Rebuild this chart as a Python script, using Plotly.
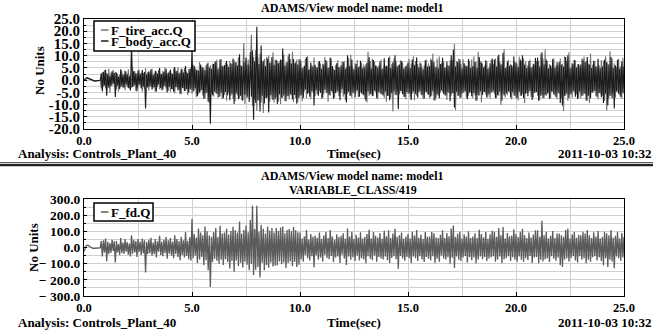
import plotly.graph_objects as go

# ---------------- data (sampled every 0.05 s, 0 .. 25 s) ----------------
T_STEP = 0.05

body_acc = [
    0.0, 0.5, 0.9, 1.0, 0.8, 0.5, 0.2, -0.1, -0.3, -0.4, -0.4, -0.3, -0.3, -0.2, -0.2, -0.1, 2.8, -4.6, 3.4, -2.2,
    4.2, -6.4, 2.6, -3.1, 1.8, -2.4, 3.6, -1.5, 2.9, -6.9, 3.1, -2.2, 1.4, -3.6, 4.4, -2.5, 2.2, -3.0, 3.8, -1.8,
    2.4, -3.2, 1.6, -4.2, 14.6, -2.8, 3.6, -2.1, 2.8, -4.5, 3.9, -1.9, 2.6, -3.4, 4.1, -2.6, 3.3, -11.6, 2.4, -3.0,
    3.6, -2.5, 4.4, -3.8, 2.1, -2.9, 3.8, -4.6, 2.7, -1.8, 4.9, -3.3, 2.6, -3.9, 3.4, -2.4, 4.6, -5.1, 3.1, -2.7,
    4.3, -3.6, 2.5, -4.8, 5.4, -2.9, 3.7, -4.1, 2.8, -5.6, 4.6, -3.2, 3.1, -4.4, 5.8, -3.6, 2.9, -5.2, 4.5, -3.8,
    12.6, -4.6, 5.9, -3.4, 4.2, -6.6, 3.8, -5.1, 6.4, -4.0, 5.2, -7.6, 4.1, -5.4, 6.8, -8.8, 5.1, -17.8, 4.6, -6.2,
    6.6, -4.8, 7.6, -5.6, 4.4, -6.9, 8.4, -5.2, 5.9, -7.4, 6.2, -4.9, 7.8, -6.2, 5.4, -8.2, 6.9, -5.7, 8.8, -9.8,
    7.2, -5.4, 6.1, -7.8, 10.6, -6.4, 5.8, -8.4, 7.3, -6.0, 9.2, -7.2, 6.4, -8.9, 11.4, -6.8, 12.1, -16.2, 7.7, -9.4,
    21.8, -8.2, 6.6, -12.8, 14.2, -6.4, 7.9, -9.6, 5.8, -7.4, 8.8, -13.2, 7.1, -6.2, 9.4, -8.1, 6.3, -7.7, 8.2, -9.8,
    6.9, -5.8, 8.4, -7.1, 12.9, -6.3, 5.9, -8.6, 7.4, -6.6, 10.8, -5.9, 6.8, -7.9, 8.6, -6.1, 7.2, -9.7, 6.4, -7.3,
    8.4, -6.2, 4.8, -7.4, 5.9, -3.8, 9.4, -5.6, 4.2, -6.8, 7.2, -4.6, 5.6, -10.4, 6.3, -4.1, 5.1, -6.4, 7.8, -5.2,
    4.6, -7.2, 6.4, -3.9, 8.2, -5.4, 4.9, -6.1, 9.2, -4.4, 5.8, -7.6, 4.1, -5.3, 6.9, -4.7, 5.4, -8.2, 6.1, -3.6,
    7.4, -5.8, 4.6, -9.2, 10.2, -4.8, 5.7, -6.4, 8.4, -5.1, 4.4, -7.1, 6.6, -4.2, 5.3, -6.8, 7.9, -5.5, 4.8, -6.2,
    5.5, -8.4, 7.1, -4.6, 9.4, -5.9, 4.7, -6.6, 8.2, -4.3, 6.0, -7.4, 5.2, -4.9, 7.6, -5.7, 4.5, -6.3, 8.9, -4.8,
    5.9, -6.5, 9.1, -8.2, 4.9, -5.4, 7.3, -4.6, 10.2, -6.1, 5.6, -11.8, 6.4, -4.4, 7.8, -5.8, 4.6, -6.9, 5.8, -4.9,
    7.2, -5.5, 4.8, -8.1, 8.4, -4.7, 6.2, -5.6, 9.2, -7.2, 5.1, -4.6, 6.8, -6.2, 4.4, -7.6, 8.1, -4.9, 5.6, -6.0,
    5.7, -6.8, 8.2, -4.5, 7.4, -8.2, 5.3, -5.9, 4.8, -7.4, 6.6, -4.2, 9.1, -5.7, 4.9, -6.3, 7.6, -5.0, 5.9, -8.6,
    10.2, -5.4, 12.4, -11.2, 5.6, -4.8, 7.4, -6.4, 8.4, -7.2, 4.7, -5.2, 6.9, -4.4, 5.8, -7.8, 8.6, -5.1, 4.9, -6.6,
    5.7, -5.3, 7.4, -8.4, 4.9, -6.2, 9.4, -4.7, 7.2, -6.1, 5.3, -4.9, 8.1, -7.2, 4.6, -5.8, 6.9, -5.1, 8.8, -4.5,
    8.4, -7.4, 5.6, -6.2, 10.4, -4.8, 6.4, -8.4, 11.2, -6.3, 4.8, -5.5, 7.6, -4.6, 5.9, -7.1, 6.2, -5.0, 9.6, -6.4,
    7.2, -7.4, 5.4, -4.8, 8.4, -6.4, 10.2, -7.4, 6.4, -5.6, 4.9, -6.6, 7.8, -4.4, 5.2, -8.1, 6.7, -5.2, 9.0, -4.9,
    9.2, -8.4, 5.6, -6.4, 11.4, -7.4, 6.4, -6.2, 8.4, -5.6, 4.7, -7.6, 6.1, -4.6, 8.6, -5.9, 4.9, -6.9, 7.3, -5.2,
    7.4, -9.4, 6.4, -10.4, 5.6, -6.4, 9.4, -5.6, 10.2, -7.4, 4.8, -5.6, 6.9, -4.5, 8.2, -6.8, 5.1, -7.7, 6.6, -4.6,
    6.4, -6.4, 8.4, -5.6, 7.4, -8.4, 9.4, -6.4, 6.4, -7.4, 4.9, -5.1, 7.9, -4.5, 5.7, -6.8, 8.7, -5.3, 4.8, -7.0,
    5.6, -9.4, 8.4, -5.6, 7.4, -10.4, 6.4, -6.4, 9.4, -7.4, 5.0, -11.6, 6.1, -4.7, 8.3, -5.6, 4.7, -6.9, 7.6, -5.2,
    5.6,
]

tire_acc = [
    0.0, 0.3, 0.6, 0.7, 0.6, 0.4, 0.1, -0.1, -0.2, -0.3, -0.3, -0.3, -0.2, -0.2, -0.1, -0.1, -3.4, 3.2, -2.6, 4.1,
    -3.4, 2.8, -2.1, 4.6, -5.2, 3.1, -2.4, 4.2, -1.9, 3.4, -3.8, 2.6, -4.6, 2.2, -2.9, 3.9, -3.3, 2.4, -4.1, 3.5,
    -2.7, 4.4, -3.6, 2.3, -3.1, 4.9, -2.5, 3.7, -4.4, 2.6, -3.4, 4.3, -2.2, 3.1, -4.8, 2.9, -3.6, 4.8, -2.8, 3.3,
    -4.2, 3.1, -2.6, 4.6, -3.4, 2.8, -4.9, 3.6, -2.8, 4.1, -3.7, 2.5, -4.3, 3.8, -2.6, 5.1, -3.5, 2.7, -4.4, 3.6,
    -4.7, 2.9, -3.8, 4.8, -5.5, 3.6, -2.9, 5.2, -4.1, 3.2, -5.9, 4.4, -3.3, 4.9, -4.4, 3.4, -6.2, 4.6, -3.6, 5.3,
    -5.6, 6.3, -4.4, 5.1, -6.9, 4.2, -5.8, 7.4, -4.6, 5.6, -6.3, 4.8, -7.6, 6.1, -4.9, 7.2, -9.4, 6.1, -5.2, 6.8,
    -6.8, 7.6, -5.4, 8.3, -7.2, 4.9, -6.6, 8.6, -7.8, 5.6, -6.1, 7.1, -8.4, 6.4, -5.2, 7.8, -6.4, 6.6, -7.6, 8.2,
    -8.6, 7.4, -6.2, 9.2, -7.4, 6.1, -8.1, 7.6, 15.2, -9.8, 7.9, -6.5, 8.4, -7.4, 9.6, 18.6, -10.6, 9.4, -8.2, 12.2,
    -12.6, 9.6, -8.4, 10.8, -9.2, 7.4, -13.4, 8.6, -7.2, 9.4, -6.8, 10.2, -8.8, 7.2, -7.6, 11.4, -9.2, 8.4, -6.9, 7.8,
    -8.8, 7.6, -9.8, 8.2, -7.3, 10.4, -8.6, 7.1, -6.6, 9.8, -7.9, 8.6, -6.2, 11.6, -8.9, 6.9, -7.4, 8.4, -9.1, 8.6,
    -6.4, 7.8, -8.6, 5.2, -4.6, 8.6, -7.4, 9.8, -5.2, 4.6, -7.8, 6.2, -4.8, 9.2, -6.6, 5.4, -5.9, 7.4, -4.4, 6.8,
    -7.8, 6.8, -5.6, 9.4, -4.9, 7.6, -8.8, 5.4, -6.4, 8.8, -5.1, 4.7, -7.2, 6.2, -4.6, 8.1, -6.6, 5.2, -4.9, 7.6,
    -6.8, 7.8, -8.2, 5.4, -5.6, 9.0, -6.4, 10.4, -7.2, 4.8, -5.5, 6.9, -4.6, 8.2, -6.9, 5.7, -4.8, 7.1, -5.9, 6.4,
    -7.6, 6.6, -9.2, 11.6, -6.4, 7.8, -5.6, 8.8, -6.4, 7.6, -4.8, 5.9, -7.8, 6.1, -5.3, 8.4, -6.1, 4.9, -7.3, 5.8,
    -8.8, 5.6, -6.4, 9.8, -7.4, 6.6, -12.8, 8.8, -6.2, 7.8, -4.9, 6.2, -5.8, 8.1, -4.6, 7.2, -6.8, 5.1, -7.9, 6.4,
    -5.6, 8.6, -7.4, 6.8, -5.6, 9.8, -8.2, 7.8, -6.4, 6.6, -4.7, 7.3, -6.1, 5.2, -7.7, 6.1, -4.9, 8.4, -5.8, 6.9,
    -7.4, 8.8, -6.4, 10.8, -8.4, 5.6, -7.2, 8.8, -6.4, 9.6, -5.1, 6.9, -4.8, 7.6, -6.2, 5.4, -8.1, 6.2, -5.3, 7.9,
    -6.4, 8.2, -5.4, 14.8, -12.2, 7.8, -6.4, 8.8, -7.4, 6.8, -5.6, 8.6, -4.9, 6.3, -7.2, 5.6, -6.4, 7.9, -5.1, 8.4,
    -7.4, 9.8, -6.2, 7.6, -8.4, 11.6, -6.4, 7.8, -9.2, 6.8, -4.8, 6.1, -5.9, 7.7, -6.8, 5.2, -7.6, 8.3, -4.9, 6.6,
    -5.6, 8.8, -7.4, 9.8, -6.4, 7.6, -10.2, 6.8, -5.6, 12.6, -7.1, 5.4, -6.2, 8.2, -4.8, 6.7, -7.9, 5.6, -6.3, 7.4,
    -7.4, 6.8, -8.4, 9.6, -6.4, 7.8, -5.6, 8.8, -9.4, 7.6, -5.3, 6.2, -4.8, 8.4, -6.9, 5.5, -7.2, 6.4, -5.1, 7.8,
    -6.4, 7.8, -8.2, 10.8, -6.2, 8.8, -7.4, 12.4, -6.4, 7.8, -5.1, 6.6, -7.6, 5.2, -4.8, 8.9, -6.3, 5.9, -7.8, 6.2,
    -5.6, 8.8, -7.4, 6.8, -12.6, 9.8, -6.4, 7.8, -8.4, 11.4, -6.1, 5.3, -7.2, 6.6, -4.9, 8.1, -5.8, 6.4, -7.4, 5.6,
    -7.4, 8.8, -6.4, 9.6, -5.6, 7.8, -8.4, 6.8, -9.4, 10.8, -5.2, 6.4, -4.7, 7.8, -6.6, 5.3, -7.9, 6.1, -5.4, 8.2,
    -6.4, 7.8, -8.4, 9.8, -12.4, 6.8, -7.4, 11.8, -6.4, 8.8, -5.3, 6.9, -7.1, 5.4, -4.8, 8.6, -6.2, 5.7, -7.6, 9.1,
    -5.6,
]

f_fd = [
    -25, -5, 10, 15, 14, 8, 3, -2, -5, -6, -6, -5, -4, -4, -3, -3, 40, -55, 45, -30,
    55, -85, 35, -40, 28, -32, 48, -22, 38, -92, 40, -30, 22, -46, 58, -34, 30, -40, 52, -26,
    34, -44, 24, -56, 75, -38, 48, -30, 40, -58, 52, -28, 36, -46, 56, -36, 44, -155, 34, -40,
    48, -36, 60, -50, 30, -40, 52, -62, 38, -26, 72, -46, 36, -54, 48, -34, 64, -70, 44, -38,
    58, -50, 36, -66, 76, -40, 52, -58, 40, -78, 66, -46, 44, -62, 96, -52, 42, -72, 64, -82,
    178, -66, 84, -50, 62, -96, 118, -74, 92, -58, 76, -110, 130, -78, 100, -140, 74, -245, 66, -90,
    96, -70, 120, -82, 64, -100, 135, -76, 86, -108, 92, -72, 116, -90, 80, -130, 102, -84, 128, -150,
    106, -80, 92, -115, 160, -94, 86, -124, 108, -88, 136, -106, 94, -140, 170, -100, 258, -170, 114, -138,
    258, -120, 98, -185, 140, -94, 116, -140, 86, -108, 130, -125, 104, -92, 120, -118, 92, -112, 120, -110,
    102, -86, 124, -104, 130, -92, 88, -126, 108, -96, 115, -86, 100, -116, 126, -90, 106, -120, 94, -106,
    92, -72, 56, -88, 70, -46, 108, -66, 50, -80, 84, -54, 66, -124, 74, -48, 60, -76, 92, -62,
    54, -86, 76, -46, 96, -64, 58, -72, 108, -52, 68, -90, 48, -62, 82, -56, 64, -96, 72, -44,
    88, -68, 54, -108, 118, -56, 68, -76, 98, -60, 52, -84, 78, -50, 62, -80, 94, -66, 56, -74,
    66, -98, 84, -54, 110, -70, 56, -78, 96, -50, 72, -88, 62, -58, 90, -68, 54, -74, 104, -56,
    70, -78, 106, -96, 58, -64, 86, -54, 116, -72, 66, -132, 76, -52, 92, -68, 54, -82, 68, -58,
    84, -66, 56, -96, 98, -56, 74, -66, 108, -84, 60, -54, 80, -74, 52, -90, 96, -58, 66, -70,
    68, -80, 96, -54, 88, -96, 62, -70, 58, -88, 78, -50, 106, -68, 58, -74, 90, -60, 70, -100,
    118, -64, 136, -126, 66, -56, 86, -76, 98, -84, 56, -62, 82, -52, 68, -92, 100, -60, 58, -78,
    68, -62, 88, -98, 58, -74, 110, -56, 84, -72, 62, -58, 96, -84, 54, -68, 82, -60, 104, -54,
    98, -88, 66, -74, 120, -56, 76, -98, 126, -74, 56, -66, 90, -54, 70, -84, 74, -60, 112, -76,
    84, -88, 64, -56, 98, -76, 116, -88, 76, -66, 58, -78, 92, -52, 62, -96, 80, -62, 106, -58,
    106, -98, 66, -76, 166, -86, 76, -72, 98, -66, 56, -90, 72, -54, 102, -70, 58, -82, 86, -62,
    86, -110, 76, -120, 66, -76, 108, -66, 118, -86, 56, -66, 82, -54, 96, -80, 60, -92, 78, -54,
    76, -76, 98, -66, 86, -98, 108, -76, 76, -88, 58, -60, 94, -54, 68, -80, 102, -62, 56, -84,
    66, -110, 98, -66, 86, -120, 76, -76, 108, -86, 60, -128, 72, -56, 98, -66, 56, -82, 90, -62,
    66,
]

x_ticks = [0, 5, 10, 15, 20, 25]
x_ticktext = ["0.0", "5.0", "10.0", "15.0", "20.0", "25.0"]
x_minor = [2.5, 7.5, 12.5, 17.5, 22.5]

y1_ticks = [-20, -15, -10, -5, 0, 5, 10, 15, 20, 25]
y1_ticktext = ["-20.0", "-15.0", "-10.0", "-5.0", "0.0", "5.0", "10.0", "15.0", "20.0", "25.0"]
y2_ticks = [-300, -200, -100, 0, 100, 200, 300]
y2_ticktext = ["\u2212 300.0", "\u2212 200.0", "\u2212 100.0", "0.0", "100.0", "200.0", "300.0"]

title_top = "ADAMS/View model name: model1"
title_bottom2 = "VARIABLE_CLASS/419"
footer_left = "Analysis: Controls_Plant_40"
footer_mid = "Time(sec)"
footer_right = "2011-10-03 10:32"
y_label = "No Units"


def times(series):
    return [round(i * T_STEP, 2) for i in range(len(series))]


# ---------------- styling ----------------
W, H = 661, 334
FONT = "Liberation Serif, Times New Roman, serif"
DARK = "#1c1c1c"
GRAY = "#727272"
FD_GRAY = "#5c5c5c"
GRID = "#d0d0d0"


def px(x):
    return x / W


def py(y):
    return 1 - y / H


def f(size):
    return dict(family=FONT, size=size, color="black", weight="bold")


fig = go.Figure()
fig.add_trace(go.Scatter(x=times(tire_acc), y=tire_acc, mode="lines", name="F_tire_acc.Q",
                         line=dict(color=GRAY, width=1.1), xaxis="x", yaxis="y",
                         showlegend=False))
fig.add_trace(go.Scatter(x=times(body_acc), y=body_acc, mode="lines", name="F_body_acc.Q",
                         line=dict(color=DARK, width=1.1), xaxis="x", yaxis="y",
                         showlegend=False))
fig.add_trace(go.Scatter(x=times(f_fd), y=f_fd, mode="lines", name="F_fd.Q",
                         line=dict(color=FD_GRAY, width=1.3), xaxis="x2", yaxis="y2",
                         showlegend=False))

xcommon = dict(range=[0, 25], tickmode="array", tickvals=x_ticks, ticktext=x_ticktext,
               showgrid=True, gridcolor=GRID, gridwidth=1,
               minor=dict(tickvals=x_minor, showgrid=True,
                          gridcolor=GRID, gridwidth=1, ticks=""),
               showline=True, linecolor="black", linewidth=1, mirror=True,
               ticks="inside", ticklen=4, tickcolor="black", zeroline=False,
               tickfont=f(12.5), automargin=False)

ycommon = dict(showgrid=True, gridcolor=GRID, gridwidth=1, tickmode="array",
               showline=True, linecolor="black", linewidth=1, mirror=True,
               ticks="inside", ticklen=3, tickcolor="black", zeroline=False,
               automargin=False)

fig.update_layout(
    width=W, height=H,
    margin=dict(l=0, r=0, t=0, b=0, autoexpand=False),
    paper_bgcolor="white", plot_bgcolor="white",
    font=f(13),
    showlegend=False,
    xaxis=dict(domain=[px(84), px(624)], anchor="y", **xcommon),
    yaxis=dict(domain=[py(129), py(19)], anchor="x", range=[-20, 25],
               tickvals=y1_ticks, ticktext=y1_ticktext, tickfont=f(15),
               minor=dict(dtick=2.5, showgrid=True, gridcolor=GRID, ticks="inside",
                          ticklen=2, tickcolor="black"),
               **ycommon),
    xaxis2=dict(domain=[px(84), px(624)], anchor="y2", **xcommon),
    yaxis2=dict(domain=[py(296), py(199)], anchor="x2", range=[-300, 300],
                tickvals=y2_ticks, ticktext=y2_ticktext, tickfont=f(13.5),
                minor=dict(dtick=50, showgrid=True, gridcolor=GRID, ticks="inside",
                           ticklen=2, tickcolor="black"),
                **ycommon),
)

annots = []


def txt(s, x, y, size, xanchor="center", angle=0):
    annots.append(dict(text=s, x=px(x), y=py(y), xref="paper", yref="paper",
                       xanchor=xanchor, yanchor="middle", showarrow=False,
                       textangle=angle, font=f(size)))


# plot 1 texts
txt(title_top, 352, 8, 12)
txt(y_label, 40, 71, 13, angle=-90)
txt(footer_left, 16, 153, 13, "left")
txt(footer_mid, 354, 153, 13)
txt(footer_right, 654, 153, 13, "right")
# legend 1
txt("F_tire_acc.Q", 109, 30, 13, "left")
txt("F_body_acc.Q", 109, 41, 13, "left")

# plot 2 texts
txt(title_top, 352, 176, 12)
txt(title_bottom2, 353, 190, 12)
txt(y_label, 33, 248, 13, angle=-90)
txt(footer_left, 16, 322, 13, "left")
txt(footer_mid, 354, 322, 13)
txt(footer_right, 654, 322, 13, "right")
# legend 2
txt("F_fd.Q", 109, 212, 13, "left")

fig.update_layout(annotations=annots)

shapes = [
    # legend boxes
    dict(type="rect", xref="paper", yref="paper", x0=px(94), x1=px(195),
         y0=py(51), y1=py(21), line=dict(color="black", width=1.5),
         fillcolor="white", layer="above"),
    dict(type="line", xref="paper", yref="paper", x0=px(101), x1=px(108.5),
         y0=py(30), y1=py(30), line=dict(color=GRAY, width=1.5)),
    dict(type="line", xref="paper", yref="paper", x0=px(101), x1=px(108.5),
         y0=py(41), y1=py(41), line=dict(color=DARK, width=1.5)),
    dict(type="rect", xref="paper", yref="paper", x0=px(94), x1=px(153),
         y0=py(221), y1=py(203), line=dict(color="black", width=1.5),
         fillcolor="white", layer="above"),
    dict(type="line", xref="paper", yref="paper", x0=px(101), x1=px(108.5),
         y0=py(212), y1=py(212), line=dict(color=FD_GRAY, width=1.5)),
    # separator double line
    dict(type="line", xref="paper", yref="paper", x0=0, x1=px(653),
         y0=py(162.7), y1=py(162.7), line=dict(color="#333333", width=1)),
    dict(type="line", xref="paper", yref="paper", x0=0, x1=px(653),
         y0=py(165.2), y1=py(165.2), line=dict(color="#222222", width=2.2)),
]
fig.update_layout(shapes=shapes)

fig.write_html("out.html")
